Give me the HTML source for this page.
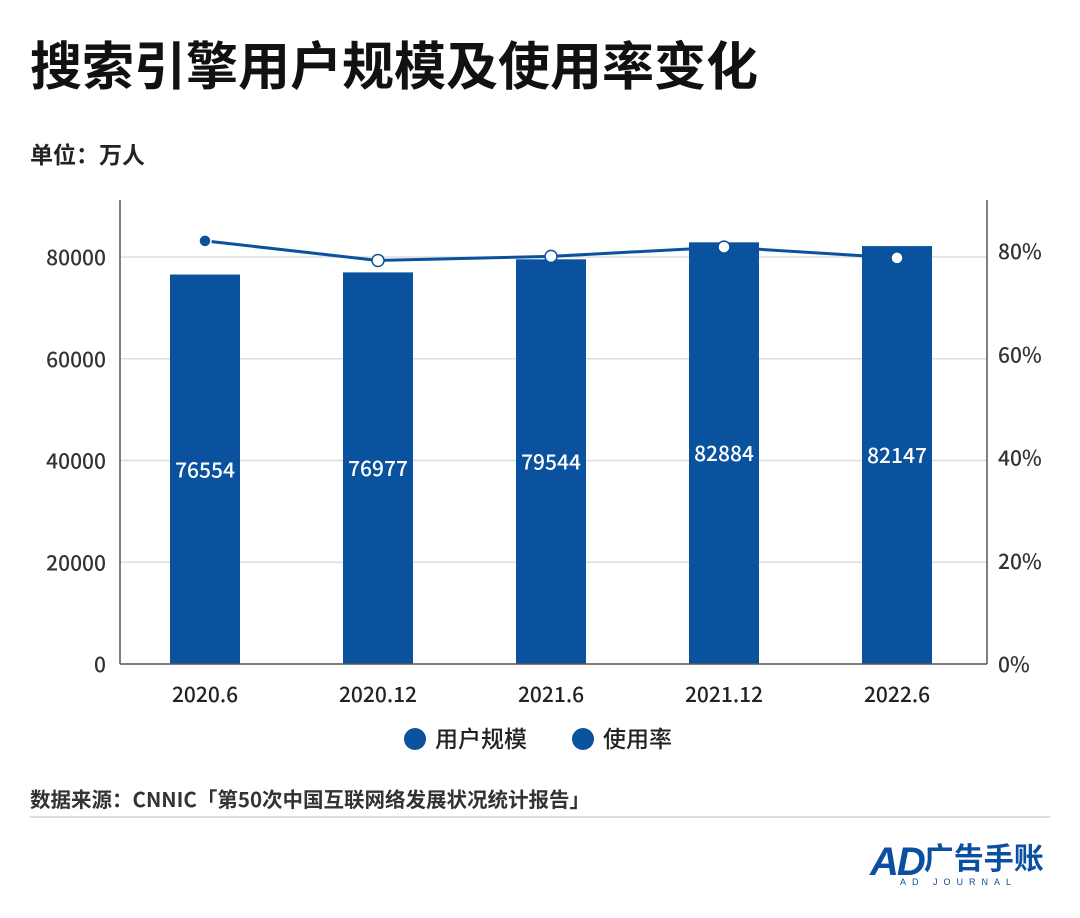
<!DOCTYPE html>
<html><head><meta charset="utf-8"><style>
body{margin:0;width:1080px;height:918px;background:#fff;font-family:"Noto Sans CJK SC",sans-serif;overflow:hidden}
svg text{font-family:"Noto Sans CJK SC",sans-serif;font-weight:500}
</style></head><body>
<div style="position:absolute;left:30px;top:30px;font-size:52px;line-height:66px;font-weight:bold;color:#111;font-family:'Noto Sans CJK SC',sans-serif">搜索引擎用户规模及使用率变化</div>
<div style="position:absolute;left:30px;top:137px;font-size:23px;line-height:32px;font-weight:bold;color:#222;font-family:'Noto Sans CJK SC',sans-serif">单位：万人</div>
<svg id="c" width="1080" height="918" style="position:absolute;left:0;top:0"></svg>
<div style="position:absolute;left:30px;top:783px;font-size:20.5px;line-height:30px;font-weight:bold;color:#333;font-family:'Noto Sans CJK SC',sans-serif">数据来源：CNNIC「第50次中国互联网络发展状况统计报告」</div>
<div style="position:absolute;left:30px;top:816px;width:1020px;height:2px;background:#ddd"></div>
<div style="position:absolute;left:870px;top:834px;color:#0b4fa0">
<span style="font-size:40px;font-weight:bold;font-style:italic;letter-spacing:-2px;font-family:'Liberation Sans',sans-serif">AD</span><span style="font-size:30px;font-weight:bold;font-family:'Noto Sans CJK SC',sans-serif;vertical-align:6px">广告手账</span>
<div style="font-size:9px;letter-spacing:6px;margin-top:-8px;padding-left:30px;font-family:'Liberation Sans',sans-serif">AD JOURNAL</div></div>
<script>
const categories=["2020.6","2020.12","2021.6","2021.12","2022.6"];
const users=[76554,76977,79544,82884,82147];
const rates=[82.0,78.2,79.0,80.8,78.7];
const leftTicks=[0,20000,40000,60000,80000];
const rightTicks=[0,20,40,60,80];
const svg=document.getElementById('c');const NS='http://www.w3.org/2000/svg';
function mk(t,a,p){const e=document.createElementNS(NS,t);for(const k in a)e.setAttribute(k,a[k]);(p||svg).appendChild(e);return e;}
const x0=120,x1=987,yB=664;
const yL=v=>yB-v/20000*101.75;
const yR=v=>yB-v/20*103.2;
const xC=i=>205+i*173;
leftTicks.forEach(t=>{const y=yL(t);
 if(t>0){const g=mk('line',{x1:x0,x2:x1,y1:y,y2:y,stroke:'#ddd','stroke-width':1.5});}
 const tx=mk('text',{x:106,y:y+8,'text-anchor':'end','font-size':21,fill:'#333'});tx.textContent=t;
 });
rightTicks.forEach(t=>{const y=yR(t);
 const tx=mk('text',{x:998,y:y+8,'font-size':21,fill:'#333'});tx.textContent=t+'%';
 });
users.forEach((v,i)=>{const r=mk('rect',{x:xC(i)-35,y:yL(v),width:70,height:yB-yL(v),fill:'#0b529e'});
 
 const t=mk('text',{x:xC(i),y:(yL(v)+yB)/2+8,'text-anchor':'middle','font-size':21,fill:'#fff'});t.textContent=v;
 
 const c=mk('text',{x:xC(i),y:702,'text-anchor':'middle','font-size':21,fill:'#222'});c.textContent=categories[i];
 });
[x0,x1].forEach(a=>{const l=mk('line',{x1:a,x2:a,y1:200,y2:yB,stroke:'#555','stroke-width':1.5});});
const xa=mk('line',{x1:x0,x2:x1,y1:yB,y2:yB,stroke:'#555','stroke-width':1.5});
const pl=mk('polyline',{points:rates.map((v,i)=>xC(i)+','+yR(v)).join(' '),fill:'none',stroke:'#0b529e','stroke-width':3});

rates.forEach((v,i)=>{const c=mk('circle',{cx:xC(i),cy:yR(v),r:6,fill:i==0?'#0b529e':'#fff',stroke:i==0?'#fff':'#0b529e','stroke-width':1.5});
 });
[[415,'用户规模'],[583,'使用率']].forEach(([x,s])=>{const c=mk('circle',{cx:x,cy:739,r:11,fill:'#0b529e'});
 
 const t=mk('text',{x:x+20,y:747,'font-size':23,fill:'#222'});t.textContent=s;
 });
</script>
</body></html>
